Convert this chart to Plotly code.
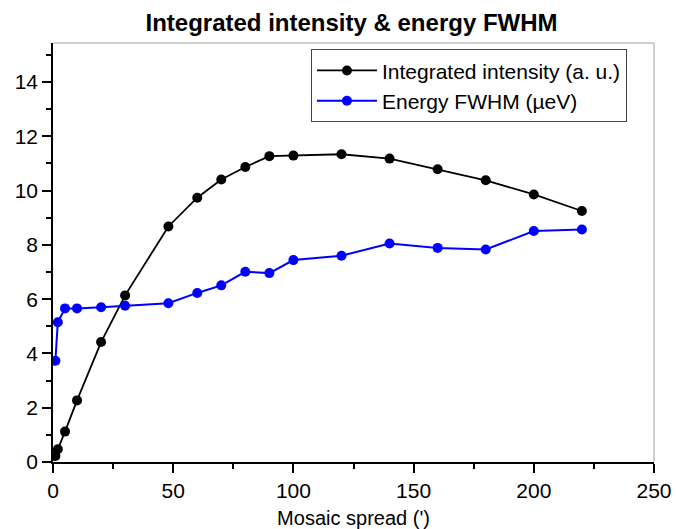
import plotly.graph_objects as go

mosaic = [1, 2, 5, 10, 20, 30, 48, 60, 70, 80, 90, 100, 120, 140, 160, 180, 200, 220]
intensity = [0.22, 0.47, 1.12, 2.27, 4.42, 6.14, 8.68, 9.74, 10.41, 10.87, 11.27, 11.29,
             11.34, 11.18, 10.79, 10.38, 9.86, 9.25]
fwhm = [3.73, 5.15, 5.66, 5.66, 5.70, 5.76, 5.85, 6.23, 6.51, 7.01, 6.96, 7.44,
        7.60, 8.05, 7.89, 7.83, 8.51, 8.57]

FONT = "Liberation Sans, Arial, sans-serif"

fig = go.Figure()
fig.add_trace(go.Scatter(x=mosaic, y=intensity, mode="lines+markers",
                         name="Integrated intensity (a. u.)",
                         line=dict(color="black", width=1.8),
                         marker=dict(color="black", size=10)))
fig.add_trace(go.Scatter(x=mosaic, y=fwhm, mode="lines+markers",
                         name="Energy FWHM (\u00b5eV)",
                         line=dict(color="#0000ff", width=2),
                         marker=dict(color="#0000ff", size=10)))

fig.update_layout(
    width=676, height=529,
    margin=dict(l=53, r=22, t=43, b=67),
    paper_bgcolor="white", plot_bgcolor="white",
    font=dict(family=FONT, color="black", size=21),
    title=dict(text="<b>Integrated intensity & energy FWHM</b>", x=0.52, xanchor="center",
               y=0.957, yanchor="middle", font=dict(size=24, family=FONT)),
    legend=dict(x=0.955, xanchor="right", y=0.985, yanchor="top",
                bordercolor="#444", borderwidth=1, bgcolor="white",
                font=dict(size=21, family=FONT), tracegroupgap=0, itemwidth=60),
    shapes=[
        dict(type="line", xref="paper", yref="paper", x0=0, x1=1, y0=1, y1=1,
             line=dict(color="#c0c0c0", width=1.5)),
        dict(type="line", xref="paper", yref="paper", x0=1, x1=1, y0=0, y1=1,
             line=dict(color="#c0c0c0", width=1.5)),
    ],
)
fig.update_xaxes(range=[0, 250], tickvals=[0, 50, 100, 150, 200, 250], automargin=False,
                 showgrid=False, zeroline=False, showline=True, linecolor="black", linewidth=1.5,
                 ticks="outside", ticklen=9, tickwidth=1.5, tickcolor="black",
                 minor=dict(ticks="outside", ticklen=5, tickwidth=1.5, tickcolor="black", dtick=25, tick0=0),
                 tickfont=dict(size=21),
                 title=dict(text="Mosaic spread (')", font=dict(size=20), standoff=10))
fig.update_yaxes(range=[0, 15.44], tickvals=[0, 2, 4, 6, 8, 10, 12, 14], automargin=False,
                 showgrid=False, zeroline=False, showline=True, linecolor="black", linewidth=1.5,
                 ticks="outside", ticklen=9, tickwidth=1.5, tickcolor="black",
                 minor=dict(ticks="outside", ticklen=5, tickwidth=1.5, tickcolor="black", dtick=1, tick0=0),
                 tickfont=dict(size=21))

fig.write_html("out.html")
